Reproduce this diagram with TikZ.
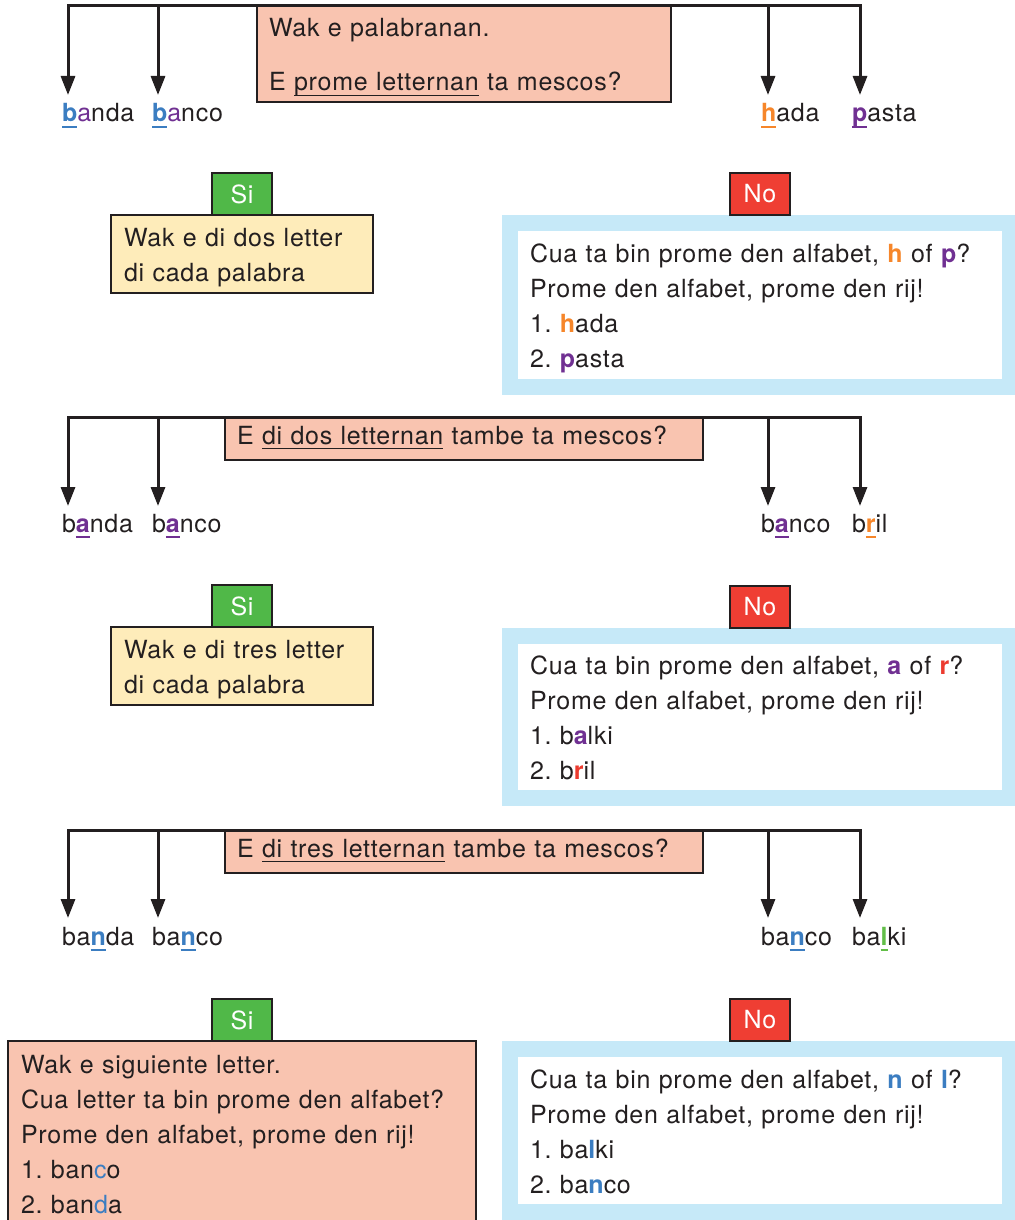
\documentclass[tikz,border=0pt]{standalone}
\usepackage{fontspec}
\setmainfont{TeX Gyre Heros}[LetterSpace=3]
\usetikzlibrary{arrows.meta,positioning}

\definecolor{ink}{RGB}{35,31,32}
\definecolor{salmon}{RGB}{249,196,176}
\definecolor{cream}{RGB}{254,236,186}
\definecolor{sky}{RGB}{198,233,248}
\definecolor{sigreen}{RGB}{80,184,72}
\definecolor{nored}{RGB}{239,62,51}
\definecolor{lblue}{RGB}{59,125,193}
\definecolor{lpurple}{RGB}{112,48,146}
\definecolor{lorange}{RGB}{246,134,42}
\definecolor{lred}{RGB}{236,59,47}
\definecolor{lgreen}{RGB}{98,190,72}

\newcommand\mk[2]{{\color{#1}\bfseries\setbox0\hbox{#2}\rlap{\rule[-6pt]{\wd0}{1.6pt}}\box0\relax}}
\newcommand\ulx[1]{\setbox0\hbox{#1}\rlap{\rule[-5pt]{\wd0}{1.2pt}}\box0\relax}
\newcommand\hl[2]{\textcolor{#1}{\bfseries #2}}
\newcommand\sx{\rule[-7pt]{0pt}{24pt}}
\newcommand\sxx{\rule{0pt}{27pt}}
\newcommand\sy{\rule[-7pt]{0pt}{7pt}}
\frenchspacing

\tikzset{
	box/.style={draw=ink, line width=1.2pt, align=left, inner ysep=0pt, outer sep=0pt, text=ink},
	qbox/.style={box, fill=salmon, inner xsep=12pt},
	ybox/.style={box, fill=cream, inner xsep=13pt},
	nobox/.style={draw=sky, line width=16pt, fill=white, align=left, inner xsep=20pt, inner ysep=0pt, outer sep=0pt, text=ink},
	tag/.style={draw=ink, line width=1.2pt, text=white, minimum width=60pt, minimum height=42pt, inner sep=0pt, outer sep=0pt},
	word/.style={inner sep=0pt, outer sep=0pt, text=ink, anchor=base west},
	arr/.style={ink, line width=3pt, -{Triangle[length=19pt,width=14pt]}},
	trunk/.style={ink, line width=3pt, line cap=rect}
}

\begin{document}
\begin{tikzpicture}[x=1pt, y=-1pt, font=\fontsize{25pt}{35pt}\selectfont]
	\useasboundingbox (0,0) rectangle (1014,1220);

	\node[qbox, anchor=north west, minimum width=414pt, minimum height=96pt, text width=390pt] (q1) at (257,6) {\sxx Wak e palabranan.\\[19pt]E \ulx{prome letternan} ta mescos?\sy};
	\foreach \n/\x in {1/68,2/158,3/768,4/860}
		\coordinate (t1\n) at (\x,95);
	\draw[trunk] (t11 |- q1.north) -- (t14 |- q1.north);
	\foreach \n in {1,...,4}
		\draw[arr] (t1\n |- q1.north) -- (t1\n);
	\node[word] (w11) at (62,122) {\mk{lblue}{b}\textcolor{lpurple}{a}nda};
	\node[word] (w12) at (152,122) {\mk{lblue}{b}\textcolor{lpurple}{a}nco};
	\node[word] (w13) at (761,122) {\mk{lorange}{h}ada};
	\node[word] (w14) at (852,122) {\mk{lpurple}{p}asta};

	\node[ybox, anchor=north west, minimum width=262pt, minimum height=78pt, text width=236pt] (y1) at (111,215) {\sxx Wak e di dos letter\\di cada palabra\sy};
	\node[tag, fill=sigreen, above=0pt of y1] (si1) {Si};
	\node[nobox, anchor=north west, minimum width=500pt, minimum height=164pt, text width=460pt] (n1) at (510,223) {\sxx Cua ta bin prome den alfabet, \hl{lorange}{h} of \hl{lpurple}{p}?\\Prome den alfabet, prome den rij!\\1. \hl{lorange}{h}ada\\2. \hl{lpurple}{p}asta\sy};
	\node[tag, fill=nored, above=8pt of n1] (no1) {No};

	\node[qbox, anchor=north west, minimum width=478pt, minimum height=43pt, text width=454pt] (q2) at (225,417) {\sx E \ulx{di dos letternan} tambe ta mescos?\sx};
	\foreach \n/\x in {1/68,2/158,3/768,4/860}
		\coordinate (t2\n) at (\x,506);
	\draw[trunk] (t21 |- q2.north) -- (t24 |- q2.north);
	\foreach \n in {1,...,4}
		\draw[arr] (t2\n |- q2.north) -- (t2\n);
	\node[word] (w21) at (62,532) {b\mk{lpurple}{a}nda};
	\node[word] (w22) at (152,532) {b\mk{lpurple}{a}nco};
	\node[word] (w23) at (761,532) {b\mk{lpurple}{a}nco};
	\node[word] (w24) at (852,532) {b\mk{lorange}{r}il};

	\node[ybox, anchor=north west, minimum width=262pt, minimum height=78pt, text width=236pt] (y2) at (111,627) {\sxx Wak e di tres letter\\di cada palabra\sy};
	\node[tag, fill=sigreen, above=0pt of y2] (si2) {Si};
	\node[nobox, anchor=north west, minimum width=500pt, minimum height=162pt, text width=460pt] (n2) at (510,636) {\sxx Cua ta bin prome den alfabet, \hl{lpurple}{a} of \hl{lred}{r}?\\Prome den alfabet, prome den rij!\\1. b\hl{lpurple}{a}lki\\2. b\hl{lred}{r}il\sy};
	\node[tag, fill=nored, above=8pt of n2] (no2) {No};

	\node[qbox, anchor=north west, minimum width=478pt, minimum height=43pt, text width=454pt] (q3) at (225,830) {\sx E \ulx{di tres letternan} tambe ta mescos?\sx};
	\foreach \n/\x in {1/68,2/158,3/768,4/860}
		\coordinate (t3\n) at (\x,918);
	\draw[trunk] (t31 |- q3.north) -- (t34 |- q3.north);
	\foreach \n in {1,...,4}
		\draw[arr] (t3\n |- q3.north) -- (t3\n);
	\node[word] (w31) at (62,945) {ba\mk{lblue}{n}da};
	\node[word] (w32) at (152,945) {ba\mk{lblue}{n}co};
	\node[word] (w33) at (761,945) {ba\mk{lblue}{n}co};
	\node[word] (w34) at (852,945) {ba\mk{lgreen}{l}ki};

	\node[qbox, anchor=north west, minimum width=468pt, minimum height=184pt, text width=442pt, inner xsep=13pt] (y3) at (8,1041) {\sxx Wak e siguiente letter.\\Cua letter ta bin prome den alfabet?\\Prome den alfabet, prome den rij!\\1. ban\textcolor{lblue}{c}o\\2. ban\textcolor{lblue}{d}a\sy};
	\node[tag, fill=sigreen, above=0pt of y3] (si3) {Si};
	\node[nobox, anchor=north west, minimum width=500pt, minimum height=163pt, text width=460pt] (n3) at (510,1049) {\sxx Cua ta bin prome den alfabet, \hl{lblue}{n} of \hl{lblue}{l}?\\Prome den alfabet, prome den rij!\\1. ba\hl{lblue}{l}ki\\2. ba\hl{lblue}{n}co\sy};
	\node[tag, fill=nored, above=8pt of n3] (no3) {No};
\end{tikzpicture}
\end{document}
